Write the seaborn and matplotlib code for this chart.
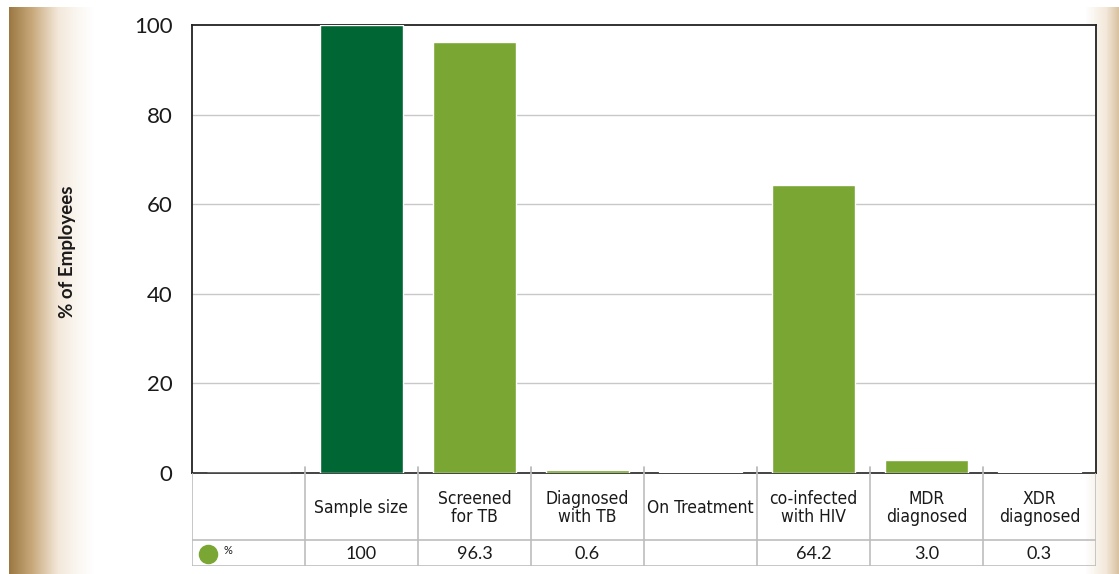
import numpy as np
import pandas as pd
import matplotlib
matplotlib.use('Agg')
import matplotlib.pyplot as plt
from matplotlib.colors import LinearSegmentedColormap
import seaborn as sns

# ---------------- data ----------------
categories = ['', 'Sample size', 'Screened\nfor TB', 'Diagnosed\nwith TB', 'On Treatment',
              'co-infected\nwith HIV', 'MDR\ndiagnosed', 'XDR\ndiagnosed']
values = [0, 100, 96.3, 0.6, 0.3, 64.2, 3.0, 0.3]
table_values = ['', '100', '96.3', '0.6', '', '64.2', '3.0', '0.3']
bar_colors = ['#7aa634', '#006633', '#7aa634', '#7aa634', '#9cbd5e', '#7aa634', '#7aa634', '#7aa634']
y_ticks = [0, 20, 40, 60, 80, 100]

df = pd.DataFrame({'cat': categories, 'val': values})

sns.set_theme(style='white')
plt.rcParams['font.family'] = ['Lato', 'DejaVu Sans']

W, H = 1119, 574
fig = plt.figure(figsize=(W / 100, H / 100), dpi=100)

# ---------------- background side stripes ----------------
bg = fig.add_axes([0, 0, 1, 1])
xs = np.arange(W)
grad = np.zeros(W)
left = (xs >= 9) & (xs < 95)
grad[left] = np.clip(1 - (xs[left] - 9) / 86.0, 0, 1) ** 1.3
right = xs >= 1085
grad[right] = np.clip((xs[right] - 1085) / 34.0, 0, 1) * 0.55
img = np.tile(grad, (H, 1))
img[:7, :] = 0
cmap = LinearSegmentedColormap.from_list('tan', ['#ffffff', '#f3e8da', '#c9a97c', '#9c7943'])
bg.imshow(img, cmap=cmap, vmin=0, vmax=1, aspect='auto', extent=(0, W, H, 0))
bg.set_axis_off()

def px_axes(l, r, t, b):
    return fig.add_axes([l / W, 1 - b / H, (r - l) / W, (b - t) / H])

# ---------------- main bar chart ----------------
ax = px_axes(192, 1096, 25, 473)
ax.set_facecolor('white')
sns.barplot(data=df, x='cat', y='val', hue='cat', palette=bar_colors,
            legend=False, width=0.73, ax=ax, saturation=1, zorder=4)
ax.set_xlim(-0.5, len(categories) - 0.5)
ax.set_ylim(0, 100)
ax.set_yticks(y_ticks)
ax.set_yticklabels([str(t) for t in y_ticks], fontsize=16, color='#1a1a1a')
ax.tick_params(axis='y', length=0, pad=14)
ax.set_xticks([])
ax.set_xlabel('')
ax.set_ylabel('')
for t in y_ticks[1:-1]:
    ax.axhline(t, color='#c8c8c8', lw=1, zorder=0)
for s in ['left', 'top', 'right', 'bottom']:
    ax.spines[s].set_visible(True)
    ax.spines[s].set_color('#222222')
    ax.spines[s].set_linewidth(1.3)
ax.spines['bottom'].set_linewidth(1.2)
ax.spines['bottom'].set_zorder(1)
for i in range(1, len(categories)):
    ax.plot([i - 0.5, i - 0.5], [0, 1.4], color='#b5b5b5', lw=1.2, clip_on=False, zorder=5)

fig.text(67 / W, 1 - 252 / H, '% of Employees', rotation=90, ha='center', va='center',
         fontsize=13.5, fontweight='bold', color='#1a1a1a')

# ---------------- data table ----------------
tax = px_axes(192, 1096, 473, 566)
tax.set_xlim(-0.5, len(categories) - 0.5)
tax.set_ylim(0, 93)
tax.invert_yaxis()
tax.set_axis_off()
line_kw = dict(color='#bdbdbd', lw=1.2)
tax.plot([-0.5, len(categories) - 0.5], [67, 67], **line_kw)
tax.plot([-0.5, len(categories) - 0.5], [93, 93], **line_kw)
tax.plot([len(categories) - 0.5] * 2, [0, 93], **line_kw)
tax.plot([-0.5, -0.5], [0, 93], **line_kw)
for i in range(1, len(categories)):
    tax.plot([i - 0.5, i - 0.5], [0, 93], **line_kw)

for i, (c, v) in enumerate(zip(categories, table_values)):
    if c:
        tax.text(i, 35, c, ha='center', va='center', fontsize=12.5, family='DejaVu Sans',
                 fontstretch='condensed', color='#1a1a1a', linespacing=1.0)
    if v:
        tax.text(i, 81, v, ha='center', va='center', fontsize=13, color='#1a1a1a')

tax.scatter([-0.36], [80.5], s=170, color='#7aa634', clip_on=False)
tax.text(-0.22, 77, '%', ha='left', va='center', fontsize=8, color='#1a1a1a')

fig.savefig('out.png', dpi=100)
